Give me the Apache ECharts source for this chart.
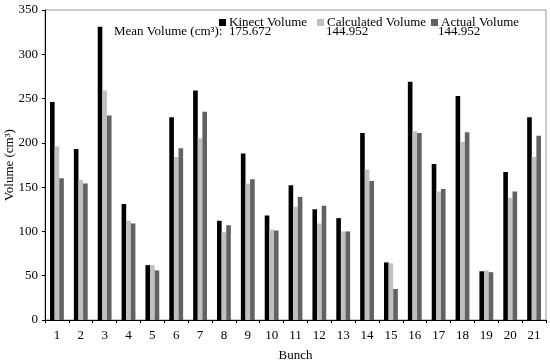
<!DOCTYPE html>
<html><head><meta charset="utf-8">
<script src="https://cdn.jsdelivr.net/npm/echarts@6/dist/echarts.min.js"></script>
<style>html,body{margin:0;padding:0;background:#fff}#c{width:550px;height:363px}</style>
</head><body><div id="c"></div>
<script>
const categories = ['1','2','3','4','5','6','7','8','9','10','11','12','13','14','15','16','17','18','19','20','21'];
const kinect = [246,193,331,131,62,229,259,112,188,118,152,125,115,211,65,269,176,253,55,167,229];
const calculated = [196,158,259,112,62,184,205,99,154,102,128,109,100,170,64,213,145,201,56,138,184];
const actual = [160,154,231,109,56,194,235,107,159,101,139,129,100,157,35,211,148,212,54,145,208];
const meanLabel = 'Mean Volume (cm³):';
const meanValues = ['175.672','144.952','144.952'];
const yTicks = {min:0,max:350,interval:50};

const FONT = 'Liberation Serif';
const chart = echarts.init(document.getElementById('c'), null, {renderer:'canvas'});
const legendBase = {top:11, itemWidth:7, itemHeight:7, icon:'rect', itemGap:3,
  textStyle:{fontFamily:FONT,fontSize:13,color:'#000',padding:[0,0,0,-2]}};
chart.setOption({
  animation:false,
  textStyle:{fontFamily:FONT},
  grid:{left:45,right:4,top:10,bottom:43,show:true,borderColor:'#999',borderWidth:1,containLabel:false,outerBoundsMode:'none'},
  legend:[
    Object.assign({left:214,data:['Kinect Volume']},legendBase),
    Object.assign({left:312,data:['Calculated Volume']},legendBase),
    Object.assign({left:426,data:['Actual Volume']},legendBase)
  ],
  graphic:[
    {type:'text',left:114,top:25,style:{text:meanLabel,font:'13px '+FONT,fill:'#000'}},
    {type:'text',left:229,top:25,style:{text:meanValues[0],font:'13px '+FONT,fill:'#000'}},
    {type:'text',left:326,top:25,style:{text:meanValues[1],font:'13px '+FONT,fill:'#000'}},
    {type:'text',left:438,top:25,style:{text:meanValues[2],font:'13px '+FONT,fill:'#000'}}
  ],
  xAxis:{type:'category',data:categories,boundaryGap:true,
    name:'Bunch',nameLocation:'middle',nameGap:29,nameMoveOverlap:false,nameTextStyle:{fontFamily:FONT,fontSize:13,color:'#000'},
    axisLine:{lineStyle:{color:'#000',width:1}},
    axisTick:{show:true,length:3,inside:false,lineStyle:{color:'#000'}},
    axisLabel:{fontFamily:FONT,fontSize:13,color:'#000',margin:9}},
  yAxis:{type:'value',min:yTicks.min,max:yTicks.max,interval:yTicks.interval,
    name:'Volume (cm³)',nameLocation:'middle',nameGap:29,nameMoveOverlap:false,nameTextStyle:{fontFamily:FONT,fontSize:13,color:'#000'},
    axisLine:{show:true,lineStyle:{color:'#000',width:1}},
    axisTick:{show:true,length:3,lineStyle:{color:'#000'}},
    splitLine:{show:false},
    axisLabel:{fontFamily:FONT,fontSize:13,color:'#000',margin:7}},
  series:[
    {name:'Kinect Volume',type:'bar',data:kinect,itemStyle:{color:'#000000'},barGap:'0%',barCategoryGap:'42%'},
    {name:'Calculated Volume',type:'bar',data:calculated,itemStyle:{color:'#c0c0c0'},barGap:'0%',barCategoryGap:'42%'},
    {name:'Actual Volume',type:'bar',data:actual,itemStyle:{color:'#626262'},barGap:'0%',barCategoryGap:'42%'}
  ]
});
</script></body></html>
